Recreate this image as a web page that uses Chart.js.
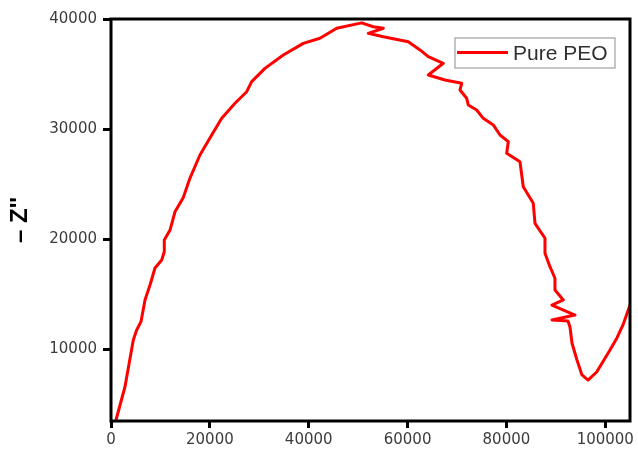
<!DOCTYPE html>
<html>
<head>
<meta charset="utf-8">
<script src="https://cdn.jsdelivr.net/npm/chart.js@4.4.1/dist/chart.umd.min.js"></script>
<style>
  html, body { margin: 0; padding: 0; background: #fff; }
  #wrap { width: 638px; height: 451px; }
</style>
</head>
<body>
<div id="wrap"><canvas id="c"></canvas></div>
<script>
// Nyquist plot of pure PEO: Z' (real) vs -Z'' (imaginary)
const seriesName = 'Pure PEO';
const zReal = [
  1010, 2830, 4510, 5200, 6070, 6880, 7890, 8900, 10260, 10780,
  10780, 11940, 12950, 14630, 15980, 18000, 20370, 22400, 25090, 27450,
  28460, 31150, 34860, 38900, 42280, 45660, 50720, 53060, 55090, 52050,
  55090, 60140, 62510, 64190, 67220, 64190, 67570, 70950, 70600, 71960,
  72280, 73980, 75320, 77340, 78700, 80380, 80050, 82740, 83410, 85430,
  85780, 87800, 87800, 88810, 89820, 89820, 91500, 89210, 93870, 89210,
  92450, 92860, 93260, 94270, 95280, 96500, 98260, 99730, 100950, 102360,
  103580, 105000
];
const zImag = [
  3590, 6610, 10850, 11760, 12520, 14490, 15850, 17390, 18120, 18870,
  19930, 20840, 22500, 23800, 25560, 27650, 29470, 30980, 32350, 33400,
  34310, 35520, 36730, 37790, 38250, 39160, 39650, 39300, 39160, 38700,
  38390, 37940, 37190, 36580, 35980, 34920, 34460, 34160, 33550, 32800,
  32190, 31740, 30980, 30380, 29470, 28860, 27810, 27040, 24770, 23270,
  21450, 20090, 18730, 17510, 16460, 15390, 14490, 14030, 13120, 12670,
  12580, 12030, 10580, 9040, 7680, 7220, 7950, 9040, 9950, 11040,
  12220, 14030
];
const xTicks = [0, 20000, 40000, 60000, 80000, 100000];
const yTicks = [10000, 20000, 30000, 40000];
const yTitle = "\u2013 Z''";

const points = zReal.map((x, i) => ({ x: x, y: zImag[i] }));

// Closed black frame around the plotting area
const framePlugin = {
  id: 'frame',
  afterDatasetsDraw(chart) {
    const { ctx, chartArea: a } = chart;
    ctx.save();
    ctx.strokeStyle = '#000';
    ctx.lineWidth = 3;
    ctx.strokeRect(a.left, a.top, a.right - a.left, a.bottom - a.top);
    ctx.restore();
  }
};

// Boxed legend in the upper-right corner
const boxLegend = {
  id: 'boxLegend',
  afterDraw(chart) {
    const { ctx } = chart;
    const ds = chart.data.datasets[0];
    ctx.save();
    ctx.fillStyle = '#fff';
    ctx.fillRect(455, 38, 160, 30);
    ctx.strokeStyle = '#a0a0a0';
    ctx.lineWidth = 1.2;
    ctx.strokeRect(455, 38, 160, 30);
    ctx.strokeStyle = ds.borderColor;
    ctx.lineWidth = 3;
    ctx.beginPath();
    ctx.moveTo(457, 52.5);
    ctx.lineTo(508, 52.5);
    ctx.stroke();
    ctx.fillStyle = '#303030';
    ctx.font = '21px "Liberation Sans", Arial, sans-serif';
    ctx.textBaseline = 'alphabetic';
    ctx.textAlign = 'left';
    ctx.fillText(ds.label, 513, 60);
    ctx.restore();
  }
};

const tickFont = { family: '"DejaVu Sans", sans-serif', size: 15 };

new Chart(document.getElementById('c'), {
  type: 'scatter',
  data: {
    datasets: [{
      label: seriesName,
      data: points,
      showLine: true,
      borderColor: '#ff0000',
      backgroundColor: '#ff0000',
      borderWidth: 3,
      pointRadius: 0,
      tension: 0,
      borderJoinStyle: 'round'
    }]
  },
  options: {
    responsive: true,
    maintainAspectRatio: false,
    animation: false,
    layout: { padding: { left: 0, top: 19, right: 8, bottom: 0 } },
    plugins: {
      legend: { display: false },
      tooltip: { enabled: false }
    },
    scales: {
      x: {
        type: 'linear',
        min: 0,
        max: 105000,
        afterBuildTicks(axis) { axis.ticks = xTicks.map(v => ({ value: v })); },
        afterFit(axis) { axis.height = 30; },
        border: { display: false },
        grid: {
          drawOnChartArea: false,
          drawTicks: true,
          tickLength: 7,
          tickColor: '#000',
          tickWidth: 3
        },
        ticks: {
          color: '#3c3c3c',
          font: tickFont,
          padding: 3,
          maxRotation: 0,
          autoSkip: false,
          callback: v => String(v)
        }
      },
      y: {
        type: 'linear',
        min: 3500,
        max: 40000,
        afterBuildTicks(axis) { axis.ticks = yTicks.map(v => ({ value: v })); },
        afterFit(axis) { axis.width = 111; },
        border: { display: false },
        grid: {
          drawOnChartArea: false,
          drawTicks: true,
          tickLength: 8,
          tickColor: '#000',
          tickWidth: 3
        },
        ticks: {
          color: '#3c3c3c',
          font: tickFont,
          padding: 6,
          autoSkip: false,
          callback: v => String(v)
        },
        title: {
          display: true,
          text: yTitle,
          color: '#000',
          font: { family: '"Liberation Sans", Arial, sans-serif', size: 24, weight: 'bold' },
          padding: { top: 6, bottom: 0 }
        }
      }
    }
  },
  plugins: [framePlugin, boxLegend]
});
</script>
</body>
</html>
